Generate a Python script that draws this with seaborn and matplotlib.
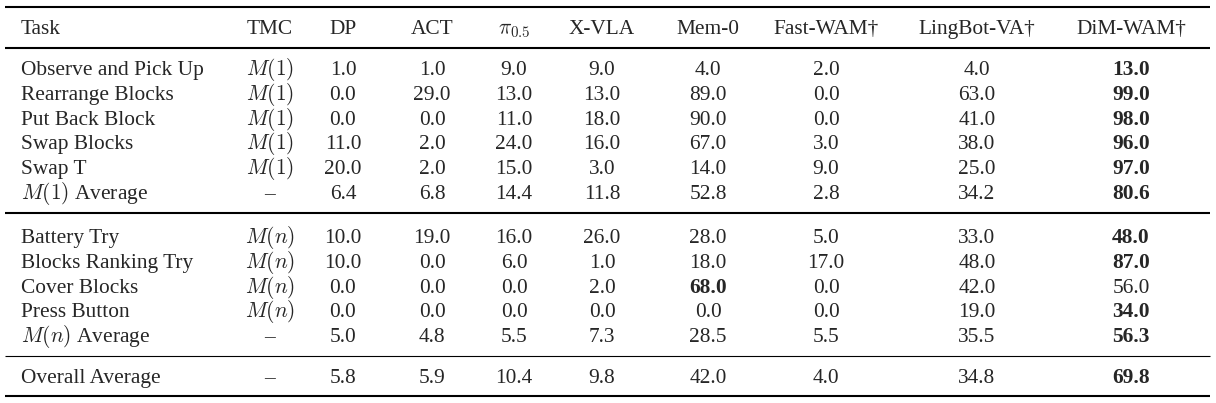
import matplotlib
matplotlib.use("Agg")
import matplotlib.pyplot as plt
import seaborn as sns

## Data ##
headers = ["Task", "TMC", "DP", "ACT", r"$\pi_{0.5}$", "X-VLA", "Mem-0",
           "Fast-WAM\u2020", "LingBot-VA\u2020", "DiM-WAM\u2020"]

tasks_m1 = ["Observe and Pick Up", "Rearrange Blocks", "Put Back Block",
            "Swap Blocks", "Swap T", r"$M(1)$ Average"]
tmc_m1 = [r"$M(1)$"] * 5 + ["\u2013"]
dp_m1 = [1.0, 0.0, 0.0, 11.0, 20.0, 6.4]
act_m1 = [1.0, 29.0, 0.0, 2.0, 2.0, 6.8]
pi_m1 = [9.0, 13.0, 11.0, 24.0, 15.0, 14.4]
xvla_m1 = [9.0, 13.0, 18.0, 16.0, 3.0, 11.8]
mem0_m1 = [4.0, 89.0, 90.0, 67.0, 14.0, 52.8]
fast_m1 = [2.0, 0.0, 0.0, 3.0, 9.0, 2.8]
ling_m1 = [4.0, 63.0, 41.0, 38.0, 25.0, 34.2]
dim_m1 = [13.0, 99.0, 98.0, 96.0, 97.0, 80.6]

tasks_mn = ["Battery Try", "Blocks Ranking Try", "Cover Blocks",
            "Press Button", r"$M(n)$ Average"]
tmc_mn = [r"$M(n)$"] * 4 + ["\u2013"]
dp_mn = [10.0, 10.0, 0.0, 0.0, 5.0]
act_mn = [19.0, 0.0, 0.0, 0.0, 4.8]
pi_mn = [16.0, 6.0, 0.0, 0.0, 5.5]
xvla_mn = [26.0, 1.0, 2.0, 0.0, 7.3]
mem0_mn = [28.0, 18.0, 68.0, 0.0, 28.5]
fast_mn = [5.0, 17.0, 0.0, 0.0, 5.5]
ling_mn = [33.0, 48.0, 42.0, 19.0, 35.5]
dim_mn = [48.0, 87.0, 56.0, 34.0, 56.3]

overall = [5.8, 5.9, 10.4, 9.8, 42.0, 4.0, 34.8, 69.8]

# best-in-row cells (section, row, column index among value columns)
bold_cells = {("m1", i, 7) for i in range(6)} | {("mn", i, 7) for i in (0, 1, 3, 4)} \
    | {("mn", 2, 4), ("ov", 0, 7)}

## Layout ##
sns.set_theme(style="white")
plt.rcParams["font.family"] = ["Liberation Serif", "DejaVu Serif"]
plt.rcParams["mathtext.fontset"] = "cm"
plt.rcParams["mathtext.rm"] = "Liberation Serif"

W, H = 1216, 403
fig = plt.figure(figsize=(W / 100, H / 100), dpi=100)
ax = fig.add_axes([0, 0, 1, 1])
ax.set_xlim(0, W)
ax.set_ylim(H, 0)
ax.axis("off")

fs = 15.4
col_x = [21, 270, 343, 432, 514, 602, 708, 826, 977, 1131]
base = 7  # baseline offset from visual centre


def put_row(y, cells, section, r):
    for j, val in enumerate(cells):
        if j == 0:
            ax.text(col_x[0], y + base, val, ha="left", va="baseline", fontsize=fs)
            continue
        txt = val if isinstance(val, str) else f"{val:.1f}"
        weight = "bold" if (section, r, j - 2) in bold_cells else "normal"
        ax.text(col_x[j], y + base, txt, ha="center", va="baseline",
                fontsize=fs, fontweight=weight)


# header
for j, h in enumerate(headers):
    ax.text(col_x[j], 27 + base, h, ha="left" if j == 0 else "center",
            va="baseline", fontsize=fs)

pitch = 24.8
m1_cols = [tasks_m1, tmc_m1, dp_m1, act_m1, pi_m1, xvla_m1, mem0_m1, fast_m1, ling_m1, dim_m1]
for i in range(len(tasks_m1)):
    put_row(68 + pitch * i, [c[i] for c in m1_cols], "m1", i)

mn_cols = [tasks_mn, tmc_mn, dp_mn, act_mn, pi_mn, xvla_mn, mem0_mn, fast_mn, ling_mn, dim_mn]
for i in range(len(tasks_mn)):
    put_row(236 + pitch * i, [c[i] for c in mn_cols], "mn", i)

put_row(376, ["Overall Average", "\u2013"] + overall, "ov", 0)

# rules
x0, x1 = 5, 1210
for y, lw in [(7, 1.5), (48, 1.5), (213, 1.5), (356, 0.8), (396, 1.5)]:
    ax.hlines(y, x0, x1, color="black", linewidth=lw)

fig.savefig("out.png", dpi=100)
